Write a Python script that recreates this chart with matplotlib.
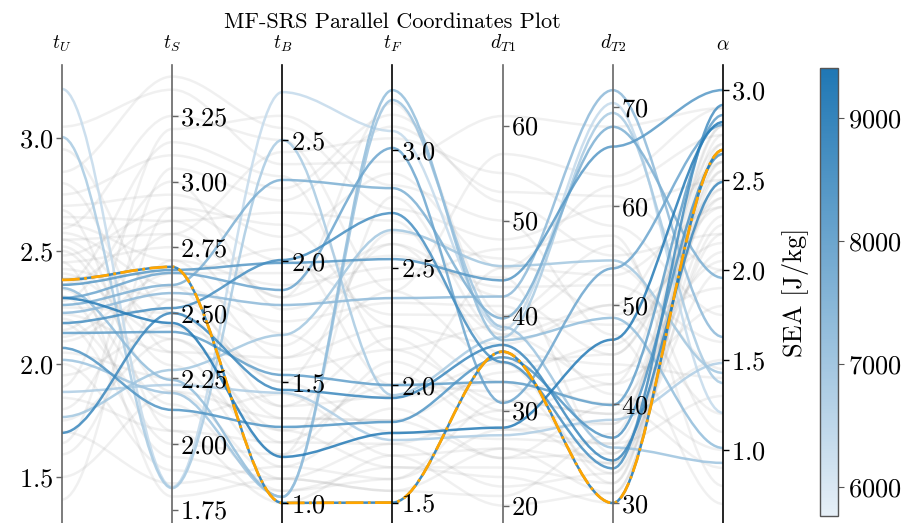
import numpy as np
import matplotlib
matplotlib.use('Agg')
import matplotlib.pyplot as plt
from matplotlib.path import Path
import matplotlib.patches as patches
from matplotlib.colors import LinearSegmentedColormap, Normalize
from matplotlib.cm import ScalarMappable

plt.rcParams['font.family'] = 'cmr10'
plt.rcParams['mathtext.fontset'] = 'cm'
plt.rcParams['axes.formatter.use_mathtext'] = True
plt.rcParams['axes.unicode_minus'] = False

# ---------------- data ----------------
axis_names = [r'$t_U$', r'$t_S$', r'$t_B$', r'$t_F$', r'$d_{T1}$', r'$d_{T2}$', r'$\alpha$']
axis_lo = [1.296, 1.699, 0.917, 1.413, 18.16, 27.98, 0.594]
axis_hi = [3.323, 3.444, 2.810, 3.362, 66.37, 74.24, 3.139]
axis_ticks = [
    [1.5, 2.0, 2.5, 3.0],
    [1.75, 2.00, 2.25, 2.50, 2.75, 3.00, 3.25],
    [1.0, 1.5, 2.0, 2.5],
    [1.5, 2.0, 2.5, 3.0],
    [20, 30, 40, 50, 60],
    [30, 40, 50, 60, 70],
    [1.0, 1.5, 2.0, 2.5, 3.0],
]

# designs coloured by SEA
blue_tU = [3.217, 3.004, 2.350, 2.292, 2.372, 2.261, 2.226, 2.181, 2.137, 2.071, 1.876, 1.765, 1.695, 2.336, 2.018, 2.292]
blue_tS = [1.836, 1.832, 2.663, 2.461, 2.675, 2.606, 2.575, 2.518, 2.427, 2.130, 2.225, 2.282, 2.499, 2.244, 2.194, 2.652]
blue_tB = [2.698, 2.500, 1.992, 1.190, 1.000, 2.335, 1.818, 2.004, 1.529, 1.314, 1.455, 1.694, 1.467, 1.025, 1.025, 1.880]
blue_tF = [3.081, 1.957, 2.536, 1.796, 1.500, 2.838, 2.370, 2.732, 2.000, 1.843, 1.766, 2.660, 1.945, 3.255, 3.213, 3.009]
blue_dT1 = [38.5, 37.7, 43.7, 28.2, 36.2, 39.7, 42.0, 35.1, 33.0, 35.6, 27.4, 45.2, 36.9, 37.4, 38.8, 30.8]
blue_dT2 = [70.4, 69.4, 66.0, 46.5, 30.0, 68.0, 71.7, 33.5, 39.9, 36.6, 38.4, 54.5, 34.3, 48.7, 35.6, 53.7]
blue_alpha = [1.206, 1.372, 3.000, 2.822, 2.667, 1.956, 1.628, 2.917, 2.861, 2.644, 1.483, 1.428, 2.489, 1.011, 0.928, 2.806]
blue_sea = [6400, 6900, 8400, 9300, 9400, 7700, 7400, 8700, 8200, 8500, 6800, 7000, 8900, 7300, 7100, 8000]
best_index = 4

# other (grey) designs
grey_tU = [3.05, 2.85, 2.75, 2.70, 2.65, 2.62, 2.58, 2.55, 2.52, 2.50, 2.48, 2.45, 2.42, 2.40, 2.38,
           2.35, 2.33, 2.30, 2.28, 2.25, 2.22, 2.20, 2.18, 2.15, 2.10, 2.05, 2.00, 1.95, 1.90, 1.85,
           1.80, 1.75, 1.70, 1.60, 1.50, 1.40, 2.95, 2.80, 2.68, 2.60, 2.55, 2.45, 2.35, 2.12, 1.65]
grey_tS = [3.35, 3.40, 3.10, 2.95, 2.85, 2.70, 2.60, 2.45, 2.30, 2.20, 2.90, 2.75, 2.55, 2.40, 2.65,
           2.85, 2.15, 2.00, 3.00, 2.50, 2.35, 2.10, 1.95, 2.80, 2.60, 2.25, 1.90, 2.45, 3.20, 2.05,
           2.70, 2.40, 1.85, 2.55, 2.20, 2.90, 2.50, 2.35, 2.05, 3.25, 2.80, 1.80, 3.15, 2.65, 3.05]
grey_tB = [2.40, 2.55, 2.30, 2.10, 1.85, 1.60, 1.40, 1.25, 1.15, 1.10, 2.00, 1.70, 1.50, 1.30, 1.95,
           2.20, 1.05, 1.20, 1.80, 1.35, 1.60, 1.45, 1.10, 2.45, 1.75, 1.30, 1.05, 1.55, 2.60, 1.25,
           1.90, 1.40, 1.15, 1.65, 1.35, 2.15, 1.50, 1.20, 1.00, 2.50, 1.85, 1.10, 2.35, 2.05, 2.25]
grey_tF = [2.95, 2.75, 3.15, 2.90, 2.60, 2.40, 2.20, 2.05, 1.90, 1.75, 2.30, 1.95, 1.80, 1.65, 2.55,
           2.70, 1.60, 2.10, 2.45, 1.85, 2.25, 1.70, 1.55, 3.05, 2.35, 2.00, 1.65, 2.15, 2.85, 1.75,
           2.50, 1.95, 1.60, 2.60, 1.85, 2.25, 2.65, 2.80, 1.70, 2.40, 3.20, 1.55, 2.15, 2.00, 3.10]
grey_dT1 = [61, 48, 52, 45, 38, 35, 30, 28, 25, 22, 40, 33, 27, 24, 43,
            36, 31, 29, 47, 34, 37, 26, 21, 55, 41, 32, 23, 39, 50, 30,
            44, 35, 28, 42, 25, 33, 46, 38, 20, 57, 40, 26, 31, 45, 53]
grey_dT2 = [68, 60, 55, 62, 50, 45, 42, 38, 35, 33, 48, 40, 36, 32, 52,
            44, 39, 34, 57, 46, 50, 31, 37, 58, 41, 43, 30, 54, 47, 38,
            35, 32, 36, 45, 40, 33, 49, 42, 31, 63, 56, 34, 39, 53, 61]
grey_alpha = [2.90, 2.50, 2.20, 2.75, 2.60, 2.40, 2.70, 2.55, 2.30, 2.65, 1.90, 2.10, 2.45, 2.75, 1.60,
              1.40, 2.60, 2.20, 0.80, 2.35, 1.20, 2.50, 2.80, 1.75, 1.00, 2.05, 2.70, 1.45, 0.70, 2.40,
              2.00, 2.60, 1.30, 2.45, 0.90, 2.25, 2.15, 1.80, 2.55, 2.90, 1.10, 2.80, 1.50, 2.35, 2.00]

sea_min, sea_max = 5764, 9407
cbar_ticks = [6000, 7000, 8000, 9000]

# ---------------- plotting ----------------
n_axes = len(axis_names)
lo = np.array(axis_lo)
hi = np.array(axis_hi)
span = hi - lo


def to_host(row):
    row = np.asarray(row, dtype=float)
    return (row - lo) / span * span[0] + lo[0]


fig = plt.figure(figsize=(9.14, 5.23), dpi=100)
host = fig.add_axes([0.0678, 0.0, 0.7232, 0.8757])
axes = [host] + [host.twinx() for _ in range(n_axes - 1)]

spine_colors = ['#666666', '#666666', 'black', 'black', '#666666', '#666666', 'black']
for i, ax in enumerate(axes):
    ax.set_ylim(lo[i], hi[i])
    ax.set_yticks(axis_ticks[i])
    ax.spines['top'].set_visible(False)
    ax.spines['bottom'].set_visible(False)
    ax.tick_params(axis='y', labelsize=19, length=4, width=1, pad=2,
                   color=spine_colors[i])
    if ax is not host:
        ax.spines['left'].set_visible(False)
        ax.yaxis.set_ticks_position('right')
        ax.spines['right'].set_position(('axes', i / (n_axes - 1)))
        ax.spines['right'].set_color(spine_colors[i])
        ax.spines['right'].set_linewidth(1.2)
    else:
        ax.spines['left'].set_color(spine_colors[i])
        ax.spines['left'].set_linewidth(1.2)

host.set_xlim(0, n_axes - 1)
host.set_xticks(range(n_axes))
host.set_xticklabels(axis_names, fontsize=14)
host.xaxis.tick_top()
host.tick_params(axis='x', which='major', length=0, pad=8)
host.spines['right'].set_visible(False)
host.set_title('MF-SRS Parallel Coordinates Plot', fontsize=16, pad=27)

cmap = LinearSegmentedColormap.from_list('sea', ['#e6eff7', '#1f77b4'])
norm = Normalize(vmin=sea_min, vmax=sea_max)

xs = np.linspace(0, n_axes - 1, n_axes * 3 - 2)
codes = [Path.MOVETO] + [Path.CURVE4] * (len(xs) - 1)


def add_curve(row, **kw):
    z = to_host(row)
    verts = list(zip(xs, np.repeat(z, 3)[1:-1]))
    host.add_patch(patches.PathPatch(Path(verts, codes), facecolor='none', **kw))


grey_rows = list(zip(grey_tU, grey_tS, grey_tB, grey_tF, grey_dT1, grey_dT2, grey_alpha))
for row in grey_rows:
    add_curve(row, edgecolor='#999999', alpha=0.14, lw=1.8, zorder=1)

blue_rows = list(zip(blue_tU, blue_tS, blue_tB, blue_tF, blue_dT1, blue_dT2, blue_alpha))
order = np.argsort(blue_sea)
for j in order:
    add_curve(blue_rows[j], edgecolor=cmap(norm(blue_sea[j])), alpha=0.85, lw=1.8, zorder=2)

add_curve(blue_rows[best_index], edgecolor='orange', lw=2.0, linestyle='-.', zorder=3)

cax = fig.add_axes([0.897, 0.0134, 0.0197, 0.857])
sm = ScalarMappable(norm=norm, cmap=cmap)
cb = fig.colorbar(sm, cax=cax, ticks=cbar_ticks)
cb.outline.set_edgecolor('#555555')
cb.outline.set_linewidth(1.0)
cax.tick_params(labelsize=19, length=4, color='#555555')
cax.yaxis.set_label_position('left')
cb.set_label('SEA [J/kg]', fontsize=19, labelpad=8)

fig.savefig('out.png', dpi=100)
